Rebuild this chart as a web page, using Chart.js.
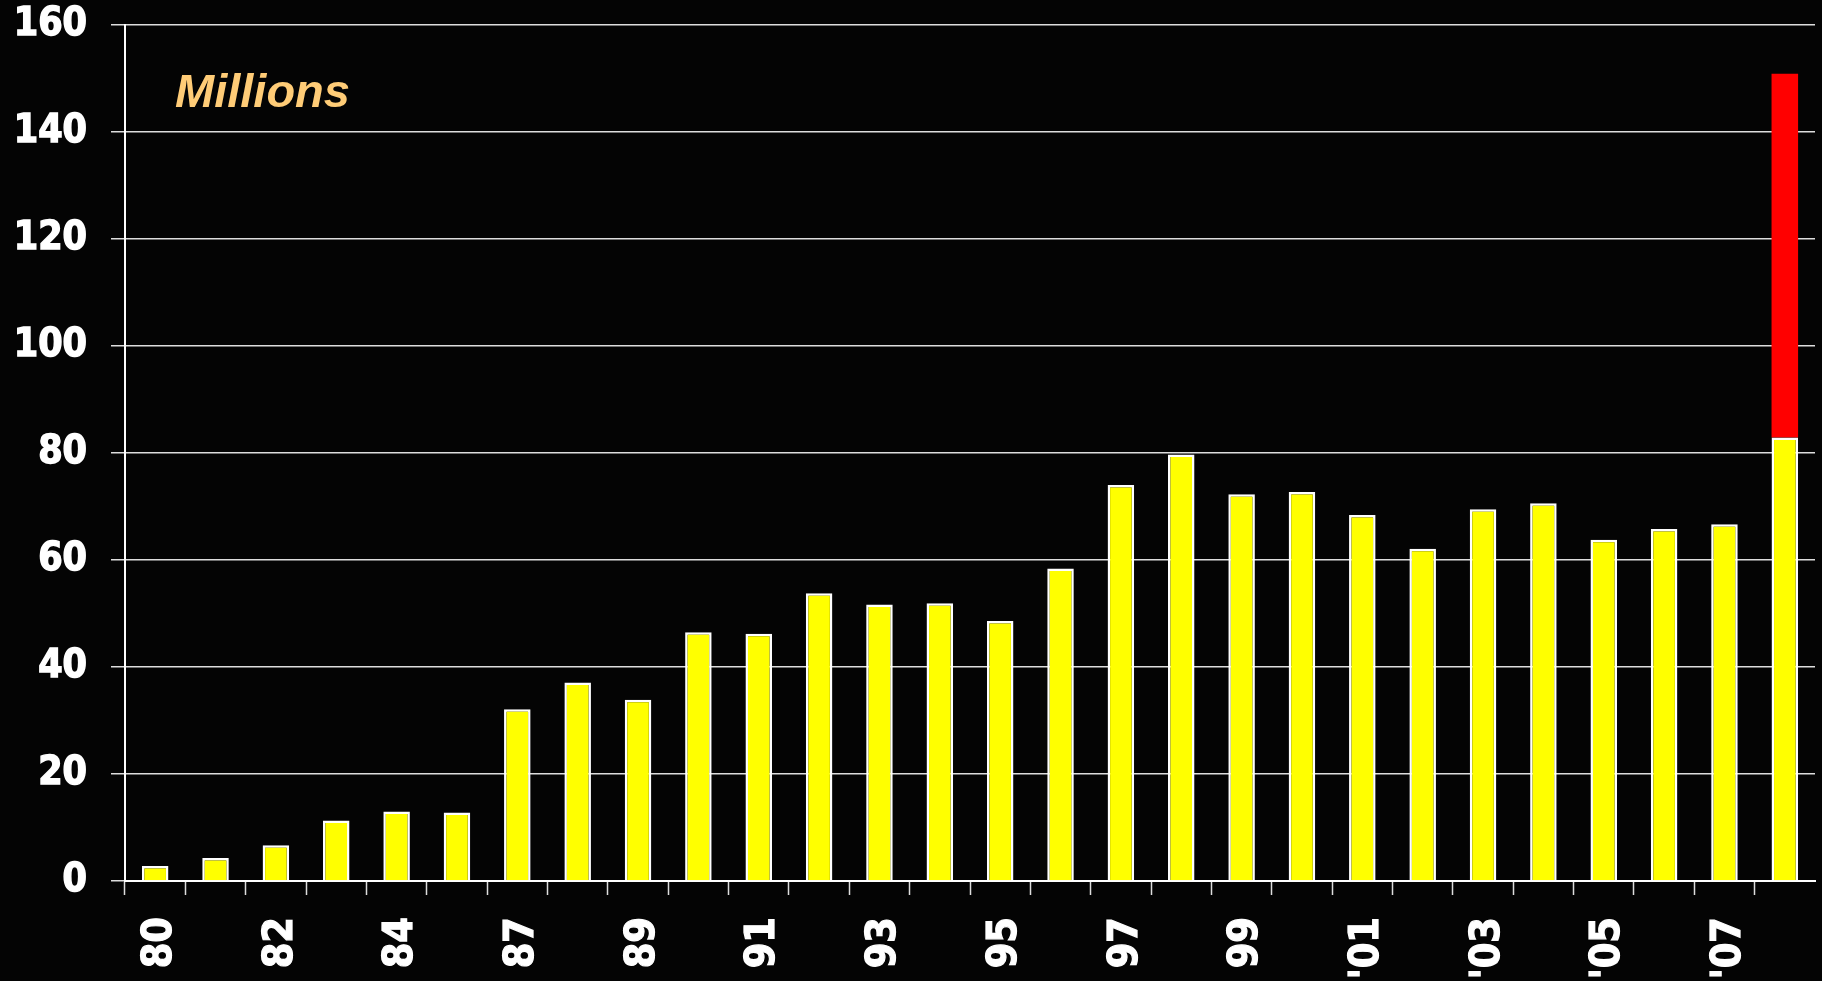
<!DOCTYPE html>
<html>
<head>
<meta charset="utf-8">
<script src="https://cdn.jsdelivr.net/npm/chart.js@4/dist/chart.umd.min.js"></script>
<style>
  html, body { margin: 0; padding: 0; background: #040404; }
  #wrap { width: 1822px; height: 981px; position: relative; }
</style>
</head>
<body>
<div id="wrap"><canvas id="c" width="1822" height="981"></canvas></div>
<script>
// Categories (years)
const categories = ["80","81","82","83","84","85","87","88","89","90","91","92","93","94","95","96","97","98","99","'00","'01","'02","'03","'04","'05","'06","'07","'08"];
// Yellow series (millions)
const baseValues = [2.8, 4.3, 6.7, 11.3, 13.0, 12.8, 32.1, 37.1, 33.9, 46.5, 46.2, 53.8, 51.7, 51.9, 48.6, 58.4, 74.0, 79.7, 72.3, 72.7, 68.4, 62.1, 69.5, 70.6, 63.8, 65.8, 66.7, 82.9];
// Red series stacked on the last bar
const extraValues = [null, null, null, null, null, null, null, null, null, null, null, null, null, null, null, null, null, null, null, null, null, null, null, null, null, null, null, 68.0];
// Y-axis ticks
const yTicks = [0, 20, 40, 60, 80, 100, 120, 140, 160];
const unitLabel = "Millions";

const FONT = "'DejaVu Sans Condensed', 'DejaVu Sans', sans-serif";

const millionsPlugin = {
  id: 'millions',
  afterDraw(chart) {
    const {ctx, chartArea} = chart;
    ctx.save();
    ctx.font = "italic bold 47px 'Liberation Sans', Arial, sans-serif";
    ctx.fillStyle = '#FFCC77';
    ctx.textAlign = 'left';
    ctx.textBaseline = 'alphabetic';
    ctx.fillText(unitLabel, chartArea.left + 50, chartArea.top + 82);
    ctx.restore();
  }
};

new Chart(document.getElementById('c'), {
  type: 'bar',
  data: {
    labels: categories,
    datasets: [
      {
        data: baseValues,
        backgroundColor: '#FFFF00',
        borderColor: '#FFFFFF',
        borderWidth: 2.5,
        borderSkipped: 'bottom',
        categoryPercentage: 1,
        barPercentage: 0.44
      },
      {
        data: extraValues,
        backgroundColor: '#FF0000',
        borderWidth: 0,
        categoryPercentage: 1,
        barPercentage: 0.44
      }
    ]
  },
  options: {
    responsive: false,
    animation: false,
    devicePixelRatio: 1,
    layout: { padding: { top: 25, right: 7, left: 0, bottom: 0 } },
    plugins: { legend: { display: false }, tooltip: { enabled: false } },
    scales: {
      x: {
        stacked: true,
        afterFit(scale) { scale.height = 100; scale.paddingLeft = 0; scale.paddingRight = 0; },
        border: { display: true, color: '#FFFFFF', width: 2 },
        grid: {
          display: true,
          offset: true,
          drawOnChartArea: false,
          drawTicks: true,
          tickLength: 14,
          tickColor: (ctx) => ctx.type === 'tick' ? '#DDDDDD' : 'rgba(0,0,0,0)',
          tickWidth: 1.5
        },
        ticks: {
          autoSkip: false,
          minRotation: 90,
          maxRotation: 90,
          padding: 22,
          labelOffset: 5,
          color: '#FFFFFF',
          textStrokeColor: '#FFFFFF',
          textStrokeWidth: 1.2,
          font: { family: FONT, size: 41, weight: 'bold' },
          callback: (val, idx) => idx % 2 === 0 ? categories[idx] : ''
        }
      },
      y: {
        stacked: true,
        min: 0,
        max: 160,
        afterFit(scale) { scale.width = 125; scale.paddingTop = 0; scale.paddingBottom = 0; },
        afterBuildTicks(scale) { scale.ticks = yTicks.map(v => ({ value: v })); },
        border: { display: true, color: '#FFFFFF', width: 2 },
        grid: {
          color: '#DDDDDD',
          lineWidth: 1.5,
          drawTicks: true,
          tickLength: 14,
          tickColor: '#DDDDDD'
        },
        ticks: {
          padding: 24,
          color: '#FFFFFF',
          textStrokeColor: '#FFFFFF',
          textStrokeWidth: 1.4,
          font: { family: FONT, size: 39, weight: 'bold' }
        }
      }
    }
  },
  plugins: [millionsPlugin, {
    id: 'bg',
    beforeDraw(chart) {
      const {ctx, width, height} = chart;
      ctx.save();
      ctx.fillStyle = '#040404';
      ctx.fillRect(0, 0, width, height);
      ctx.restore();
    }
  }]
});
</script>
</body>
</html>
